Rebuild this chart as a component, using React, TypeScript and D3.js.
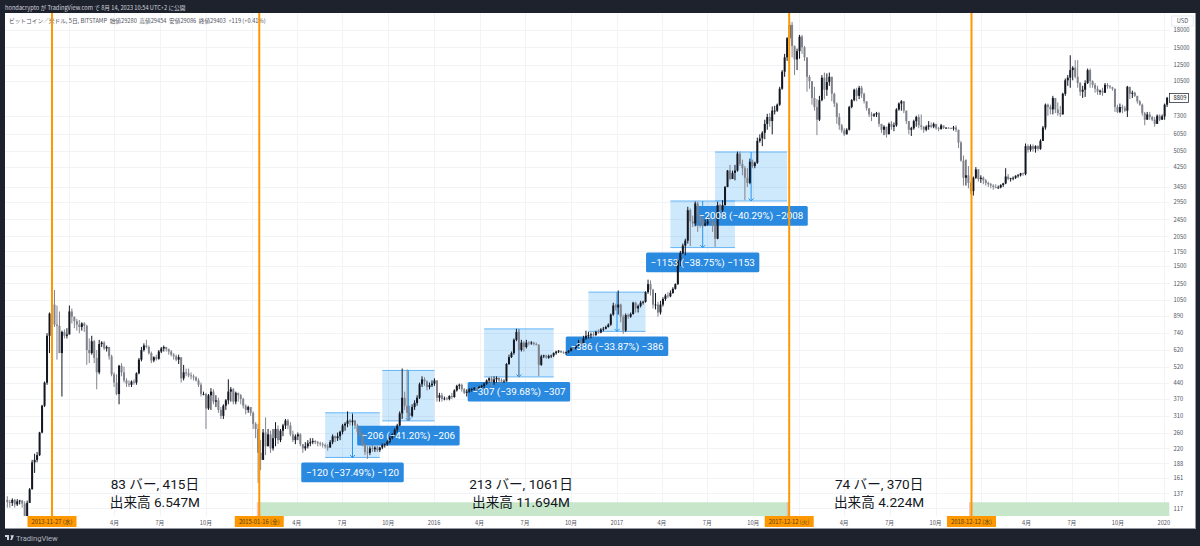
import React from "react";
import * as d3 from "d3";

const width = 1200;
const height = 546;
const jpFont = '"Noto Sans CJK JP", "Noto Sans", sans-serif';

// 5 day bars: [high, low, close], open is the previous close
const bars2013: number[][] = [
  [133,118,125],[128,118,124],[130,120,128],[129,118,122],[129,120,126],[128,122,127],[128,118,123],[126,100,108],[127,100,124],
  [145,124,143],[195,143,190],[208,170,195],[212,190,205],[262,203,260],[348,258,345],[445,340,440],[740,430,720],[920,600,910],
  [1060,900,1000],[1165,790,810],[990,560,800],[930,600,600],[760,380,750],[770,700,720],[780,700,730],
];
const bars2014: number[][] = [
  [990,730,930],[960,820,880],[880,780,840],[860,760,810],[850,740,790],[830,760,820],[830,750,800],[810,530,620],[700,540,600],[720,590,680],
  [690,540,570],[620,410,490],[690,480,660],[680,640,670],[680,620,630],[650,610,640],[640,560,580],[590,470,480],[490,420,440],[480,385,390],
  [530,350,525],[540,470,490],[520,440,450],[460,420,435],[450,420,430],[450,420,445],[455,430,440],[490,430,485],[570,480,560],[640,550,620],
  [665,610,650],[690,630,640],[650,590,600],[610,540,555],[580,545,575],[590,555,565],[620,560,610],[640,600,630],[650,610,640],[640,610,625],
  [630,590,610],[620,580,590],[600,560,580],[590,550,560],[590,535,575],[570,440,460],[530,450,490],[510,470,485],[510,465,475],[490,455,470],
  [480,450,465],[470,445,450],[460,420,430],[440,380,390],[400,385,390],[395,270,335],[390,330,385],[415,330,400],[410,350,360],[385,340,365],
  [375,320,330],[340,300,310],[350,300,345],[370,330,365],[455,350,400],[420,360,410],[415,350,360],[400,350,395],[395,360,385],[390,350,370],
  [375,335,345],[350,315,330],[345,320,340],
];
const bars2015: number[][] = [
  [340,310,320],[325,270,285],[290,245,270],[285,153,210],[240,175,195],[270,195,260],[305,205,225],[270,225,255],[265,210,220],[270,215,245],
  [290,225,270],[280,230,240],[270,235,265],[285,250,280],[300,270,295],[300,270,280],[290,250,255],[265,235,240],[255,230,250],[260,240,255],
  [258,225,230],[230,210,220],[235,215,225],[240,220,232],[245,225,235],[245,230,238],[240,230,235],[238,225,232],[236,225,230],[235,222,228],
  [232,220,225],[230,215,222],[240,222,235],[255,230,250],[252,235,245],[260,238,250],[265,240,262],[285,255,280],[290,265,285],[325,275,295],
  [300,280,290],[315,280,295],[297,270,280],[285,255,262],[270,250,255],[258,225,230],[232,205,212],[225,197,210],[225,205,220],[228,212,218],
  [225,212,222],[226,212,216],[224,212,222],[232,218,228],[232,222,230],[240,226,236],[250,232,246],[258,242,255],[272,250,268],[285,260,280],
  [325,278,318],[510,300,375],[400,330,345],[505,295,320],[345,295,310],[350,305,340],[365,330,355],[385,345,375],[440,370,432],[470,420,455],
  [465,425,445],[450,405,420],[440,410,428],
];
const bars2016: number[][] = [
  [450,420,435],[460,425,450],[450,360,375],[395,360,385],[395,360,370],[380,365,372],[378,365,370],[385,365,382],[395,370,378],[410,375,405],
  [430,400,425],[435,410,430],[435,400,410],[415,390,395],[410,380,400],[415,395,408],[415,400,410],[420,405,415],[420,405,412],[425,410,420],
  [430,415,425],[440,415,435],[455,430,450],[465,440,460],[470,420,440],[470,430,455],[470,440,462],[465,435,450],[460,440,445],[455,440,445],
  [540,445,535],[590,530,575],[610,570,600],[700,590,690],[775,680,750],[770,465,620],[690,610,670],[680,610,640],[690,630,670],[680,650,665],
  [680,655,670],[675,650,660],[670,650,655],[660,470,530],[590,525,580],[590,570,585],[590,565,572],[590,565,582],[590,570,585],[605,575,600],
  [615,590,610],[620,600,615],[615,600,605],[612,595,600],[610,590,605],[620,600,615],[635,610,630],[640,620,625],[650,625,645],[690,640,670],
  [690,650,665],[720,660,700],[760,690,720],[750,700,725],[745,700,730],[750,715,725],[760,720,750],[770,735,745],[780,740,770],[790,755,775],
  [800,770,790],[820,785,810],[910,800,900],
];
const bars2017: number[][] = [
  [1020,890,990],[1010,940,970],[1160,900,1000],[1010,830,880],[900,735,760],[910,750,895],[910,860,880],[920,870,905],[1030,900,1020],[1030,920,960],
  [1000,920,985],[1040,970,1020],[1040,1000,1030],[1150,1020,1140],[1300,1120,1240],[1290,1100,1170],[1180,960,1000],[1130,950,1000],[1030,880,920],[1040,900,1000],
  [1080,980,1060],[1120,1040,1100],[1140,1070,1090],[1160,1080,1130],[1200,1120,1180],[1250,1170,1240],[1600,1230,1590],[1760,1500,1720],[1900,1700,1860],[2000,1680,1960],
  [2800,1900,2700],[2750,1850,2400],[2550,2260,2350],[2960,2280,2900],[2960,2150,2550],[2600,2250,2400],[2500,2250,2300],[2450,2280,2350],[2500,2300,2400],[2550,2350,2380],
  [2500,2150,2300],[2400,1835,2000],[2950,1990,2850],[2900,2500,2700],[3000,2650,2850],[3480,2830,3450],[4120,3440,4100],[4350,3700,3750],[4100,3800,4000],[4350,3700,4100],
  [5000,4050,4900],[5000,4300,4400],[4600,3900,4200],[4300,3000,3800],[4200,3450,3600],[4650,3550,4500],[4600,4200,4300],[4500,4200,4450],[5800,4400,5600],[6000,5500,5750],
  [6200,5300,6100],[7000,5700,6700],[7450,6300,7200],[7500,6500,6900],[8050,6000,7700],[8100,7400,7700],[8300,7600,8200],[9900,8100,9700],[11800,9600,11600],[14000,11000,13500],
  [16700,13000,16500],[19600,16000,19000],[19600,13500,15200],
];
const bars2018: number[][] = [
  [15300,11200,13200],[14800,11800,14400],[17100,13300,16800],[17100,14000,15000],[15200,13000,13500],[13000,9400,11000],[11200,9700,10500],[10500,8200,8800],[9900,7700,8000],[8700,5950,7000],
  [9000,6900,8600],[11200,8500,10900],[11500,8700,9600],[11400,9000,10400],[11500,10000,11000],[11000,8500,9200],[9300,8000,8300],[8400,6700,7200],[7500,6300,6600],[6700,6100,6250],
  [6400,5900,6000],[6400,6000,6300],[8100,6250,8000],[8700,7900,8600],[9700,8500,9600],[9800,8500,9000],[10000,8700,9800],[10000,8800,9200],[9300,8300,8500],[8500,7700,7900],
  [7900,7200,7400],[7600,6900,7300],[7500,7200,7400],[7600,7200,7500],[7600,6500,6700],[6700,6100,6300],[6600,5950,6500],[6500,5800,6000],[6800,6200,6700],[6900,6300,6500],
  [6800,6200,6600],[7900,6500,7800],[8400,7700,8300],[8600,7700,8500],[8500,7500,7700],[7700,6700,6900],[6900,6000,6300],[6500,5900,6400],[7000,6300,6900],[7300,6500,7200],
  [7400,6400,6600],[7400,6300,6500],[6550,6100,6300],[6600,6200,6500],[6900,6300,6600],[6800,6400,6500],[6800,6400,6700],[6600,6300,6400],[6500,6200,6350],[6700,6300,6600],
  [6500,6350,6420],[6480,6370,6430],[6470,6380,6400],[6450,6350,6380],[6560,6250,6450],[6600,6150,6300],[6300,5200,5500],[5600,4500,4550],[4800,3500,3800],[4600,3500,3900],
  [4300,3400,3600],[3650,3200,3300],[3850,3150,3800],[4250,3750,4150],
];
const bars2019: number[][] = [
  [4150,3650,3750],[3900,3600,3800],[3850,3550,3700],[3750,3500,3600],[3650,3450,3550],[3600,3400,3500],[3550,3350,3450],[3550,3400,3420],[3500,3380,3430],[3550,3400,3520],
  [3600,3450,3580],[4200,3550,3850],[3950,3700,3750],[3800,3650,3780],[3850,3700,3800],[3900,3750,3880],[3950,3800,3900],[4000,3850,3980],[4020,3880,3950],[5450,3900,5300],
  [5400,4950,5100],[5400,5000,5300],[5400,5000,5150],[5350,4950,5300],[5350,5050,5150],[5700,5100,5600],[6550,5600,6450],[8300,6300,8200],[8300,7300,8000],[8200,7400,7800],
  [9000,7400,8800],[8600,7500,7800],[8400,7300,7500],[8100,7200,7400],[9300,7400,9200],[10800,9000,10600],[11200,10000,10900],[13800,9800,11800],[12300,10600,12100],[13100,10800,11000],
  [13100,9800,10300],[10400,9000,9400],[10000,8800,9600],[10600,8900,10300],[12000,10200,11800],[12000,9800,10500],[10600,9800,10100],[10300,9300,9700],[10000,9100,9400],[9600,9100,9500],
  [9800,9000,9300],[10300,9300,10100],[10300,9700,9950],[10100,9700,9850],[9900,9500,9700],[9700,7600,8000],[8200,7500,7600],[8300,7500,8000],[8200,7500,7900],[8100,7600,7700],
  [10000,7200,9900],[9700,8700,9200],[9500,8800,9300],[9400,8900,9000],[9000,8300,8500],[8600,8100,8200],[8300,7300,7500],[7600,6600,7000],[7600,7000,7400],[7600,7000,7200],
  [7300,6900,7000],[7200,6500,6700],[7400,6700,7300],[7400,6900,7000],[7400,7000,7250],[8300,7000,8200],[8900,8000,8809],
];
const bars = [...bars2013, ...bars2014, ...bars2015, ...bars2016, ...bars2017, ...bars2018, ...bars2019];

const priceTicks = [117,137,161,188,220,260,310,370,440,520,620,740,890,1050,1250,1500,1750,2050,2450,2950,3450,4250,5050,6050,7300,10500,12500,15000,18000];
const lastPrice = 8809;

const timeTicks = [
  "2014-01-01","2014-04-01","2014-07-01","2014-10-01","2015-01-01","2015-04-01","2015-07-01","2015-10-01",
  "2016-01-01","2016-04-01","2016-07-01","2016-10-01","2017-01-01","2017-04-01","2017-07-01","2017-10-01",
  "2018-01-01","2018-04-01","2018-07-01","2018-10-01","2019-01-01","2019-04-01","2019-07-01","2019-10-01","2020-01-01",
];
// these sit under the orange date boxes in the picture, only their grid line shows
const hiddenTickLabels = ["2014-01-01","2015-01-01","2018-01-01","2019-01-01"];

// vertical date markers
const markerDates = ["2013-11-27","2015-01-16","2017-12-12","2018-12-12"];
const markerLabels = ["2013-11-27 (水)","2015-01-16 (金)","2017-12-12 (火)","2018-12-12 (水)"];

// date range notes
const rangeCenters = ["2014-06-21","2016-06-23","2018-06-10"];
const rangeLine1 = ["83 バー, 415日","213 バー, 1061日","74 バー, 370日"];
const rangeLine2 = ["出来高 6.547M","出来高 11.694M","出来高 4.224M"];
const greenSpans = [["2015-01-16","2017-12-12"],["2018-12-12","2020-01-12"]];

// price range drawings
const measureFrom = [128,151,192,234,267,285];
const measureTo = [150,172,220,257,293,314];
const measureTop = [320,500,774,1140,2975,4984];
const measureDrop = [120,206,307,386,1153,2008];
const measurePct = ["37.49","41.20","39.68","33.87","38.75","40.29"];

const day = (s: string) => new Date(s + "T00:00:00Z");

const x = d3.scaleUtc().domain([day("2013-11-27"), day("2018-12-12")]).range([52, 971.5]);
const xBar = d3.scaleLinear().domain([0, 467]).range([7.3, 1167.1]);
const y = d3.scaleLog().domain([117, 18000]).range([508.4, 30]);

const plotLeft = 5;
const plotRight = 1169.5;
const plotTop = 13;
const plotBottom = 516;

function tickLabel(s: string) {
  const d = day(s);
  return d.getUTCMonth() === 0 ? String(d.getUTCFullYear()) : `${d.getUTCMonth() + 1}月`;
}

export default function App() {
  const line = d3.line<[number, number]>();
  return (
    <svg width={width} height={height} style={{ position: "absolute", left: 0, top: 0, display: "block" }} fontFamily={jpFont}>
      <rect width={width} height={height} fill="#1e222d" />
      <rect x={plotLeft} y={plotTop} width={1195 - plotLeft} height={528 - plotTop} fill="#ffffff" />
      <line x1={plotLeft} x2={1195} y1={528.5} y2={528.5} stroke="#9598a1" />
      <line x1={1195.5} x2={1195.5} y1={plotTop} y2={529} stroke="#9598a1" />

      <text x={5} y={9.5} fontSize={5.7} fill="#d1d4dc">hondacrypto が TradingView.com で 8月 14, 2023 10:54 UTC+2 に公開</text>

      {/* grid */}
      <g stroke="#f2f3f6" strokeWidth={1}>
        {priceTicks.map(p => <line key={p} x1={plotLeft} x2={plotRight} y1={Math.round(y(p)) + 0.5} y2={Math.round(y(p)) + 0.5} />)}
        {timeTicks.map(t => <line key={t} x1={Math.round(x(day(t))) + 0.5} x2={Math.round(x(day(t))) + 0.5} y1={plotTop} y2={plotBottom} />)}
      </g>

      <text x={9} y={23} fontSize={5.7} fill="#50535e" style={{ whiteSpace: "pre" }}>ビットコイン／米ドル, 5日, BITSTAMP  始値29280  高値29454  安値29086  終値29403  +119 (+0.41%)</text>

      {/* date range shading */}
      {greenSpans.map(([a, b]) => (
        <g key={a}>
          <rect x={x(day(a)) - 2.5} y={502.3} width={2.5} height={plotBottom - 502.3} fill="#f5c6c6" />
          <rect x={x(day(a))} y={502.3} width={Math.min(x(day(b)), plotRight) - x(day(a))} height={plotBottom - 502.3} fill="#c8e6c9" />
        </g>
      ))}
      <rect x={x(day("2017-12-12")) - 2.5} y={502.3} width={2.5} height={plotBottom - 502.3} fill="#d9c3b4" />

      {/* price range boxes and their label boxes */}
      {measureTop.map((top, i) => {
        const x0 = xBar(measureFrom[i]);
        const x1 = xBar(measureTo[i]);
        const y0 = y(top);
        const y1 = y(top - measureDrop[i]);
        const mid = (x0 + x1) / 2;
        const w = measureDrop[i] > 1000 ? 113.3 : 102.5;
        return (
          <g key={top}>
            <rect x={x0} y={y0} width={x1 - x0} height={y1 - y0} fill="#2196f3" fillOpacity={0.22} />
            <line x1={x0} x2={x1} y1={y0} y2={y0} stroke="#64b5f6" />
            <line x1={x0} x2={x1} y1={y1} y2={y1} stroke="#64b5f6" />
            <path d={line([[mid, y0], [mid, y1]]) ?? ""} stroke="#2196f3" fill="none" />
            <path d={line([[mid - 2.5, y1 - 2.5], [mid, y1], [mid + 2.5, y1 - 2.5]]) ?? ""} stroke="#2196f3" fill="none" />
            <rect x={mid - w / 2} y={y1 + 5} width={w} height={19.7} rx={1.5} fill="#2a8ae0" />
          </g>
        );
      })}

      {/* candles */}
      <clipPath id="plot"><rect x={plotLeft} y={plotTop} width={plotRight - plotLeft} height={plotBottom - plotTop} /></clipPath>
      <g clipPath="url(#plot)">
        {bars.map(([hi, lo, close], i) => {
          const open = i > 0 ? bars[i - 1][2] : 128;
          const up = close >= open;
          const cx = xBar(i);
          const colour = up ? "#131722" : "#80838c";
          const top = y(Math.max(open, close));
          const h = Math.max(0.8, y(Math.min(open, close)) - top);
          return (
            <g key={i}>
              <line x1={cx} x2={cx} y1={y(hi)} y2={y(lo)} stroke={colour} strokeWidth={1} />
              <rect x={cx - 1} y={top} width={2} height={h} fill={colour} />
            </g>
          );
        })}
      </g>

      {/* label text goes over the candles */}
      {measureTop.map((top, i) => {
        const mid = (xBar(measureFrom[i]) + xBar(measureTo[i])) / 2;
        const y1 = y(top - measureDrop[i]);
        return (
          <text key={top} x={mid} y={y1 + 18.5} fontSize={9.8} textAnchor="middle" fill="#ffffff" fontFamily="Roboto, sans-serif">
            {`−${measureDrop[i]} (−${measurePct[i]}%) −${measureDrop[i]}`}
          </text>
        );
      })}

      {/* bars count notes */}
      {rangeCenters.map((c, i) => (
        <g key={c} textAnchor="middle" fontSize={13.6} fill="#131722" fontFamily={'Roboto, "Noto Sans CJK JP", sans-serif'}>
          <text x={x(day(c))} y={489}>{rangeLine1[i]}</text>
          <text x={x(day(c))} y={506.5}>{rangeLine2[i]}</text>
        </g>
      ))}

      {/* time axis */}
      <g fontSize={5.7} fill="#50535e" textAnchor="middle">
        {timeTicks.filter(t => !hiddenTickLabels.includes(t)).map(t => <text key={t} x={x(day(t))} y={524.5}>{tickLabel(t)}</text>)}
      </g>

      {/* price axis */}
      <g fontSize={5.8} fill="#50535e">
        {priceTicks.map(p => <text key={p} x={1173.5} y={y(p) + 2.2}>{p}</text>)}
      </g>
      <rect x={1171.7} y={16} width={21.5} height={10} fill="#ffffff" stroke="#e0e3eb" strokeWidth={0.7} />
      <text x={1182.5} y={23.2} fontSize={5.8} textAnchor="middle" fill="#50535e">USD</text>
      <rect x={1169.5} y={y(lastPrice) - 4.5} width={19} height={9} fill="#ffffff" stroke="#131722" strokeWidth={0.7} />
      <text x={1173.5} y={y(lastPrice) + 2.2} fontSize={5.8} fill="#131722">{lastPrice}</text>

      {/* date markers */}
      {markerDates.map((d, i) => (
        <g key={d}>
          <line x1={x(day(d))} x2={x(day(d))} y1={plotTop} y2={plotBottom} stroke="#ff9800" strokeWidth={2} />
          <rect x={x(day(d)) - 24.5} y={516} width={49} height={11} fill="#ff9800" />
          <text x={x(day(d))} y={524} fontSize={5.8} textAnchor="middle" fill="#50400a">{markerLabels[i]}</text>
        </g>
      ))}

      {/* footer */}
      <path d="M5 535h4v5h-2v-3h-2z M10.5 535.3 h3.5 l-2 4.7 h-1.8 l1-2.6 z" fill="#d1d4dc" />
      <text x={16} y={540.5} fontSize={7.6} fill="#b2b5be" fontFamily="Roboto, sans-serif">TradingView</text>
    </svg>
  );
}
